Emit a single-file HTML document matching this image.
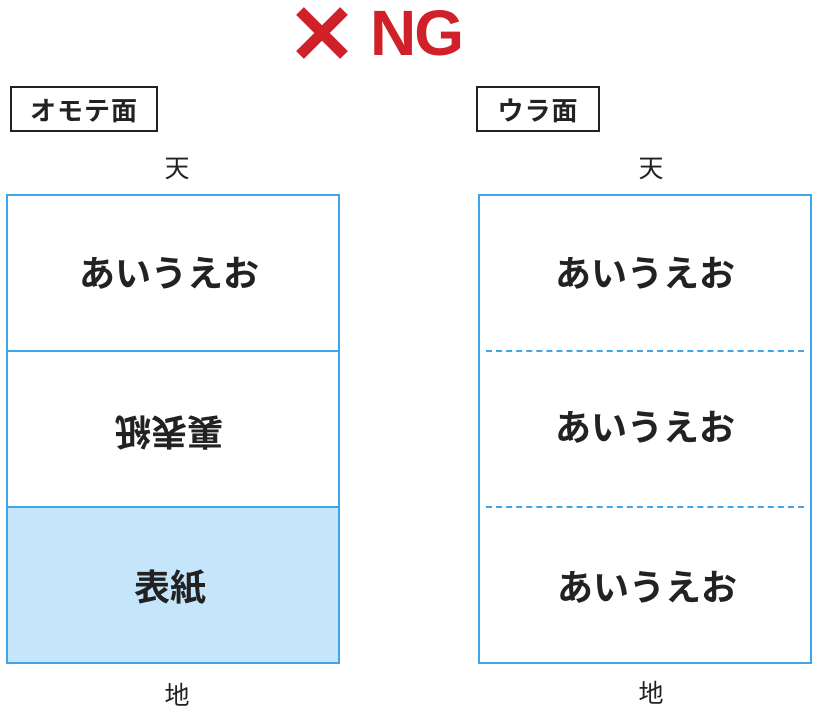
<!DOCTYPE html>
<html><head><meta charset="utf-8"><style>
body{margin:0;width:824px;height:716px;background:#fff;position:relative;overflow:hidden;font-family:"Liberation Sans","Noto Sans CJK JP",sans-serif;color:#222}
.a{position:absolute}
.lbl{border:2px solid #222;font-weight:bold;font-size:26px;display:flex;align-items:center;justify-content:center;box-sizing:border-box;letter-spacing:1px}
.box{border:2px solid #3fa5e8;box-sizing:border-box}
.t{font-size:36px;font-weight:bold;text-align:center;line-height:40px}
.s{font-size:25px;text-align:center;width:60px}
</style></head><body>
<svg class="a" style="left:294px;top:5px" width="56" height="56"><path d="M6 6L50 50M50 6L6 50" stroke="#d0202a" stroke-width="11"/></svg>
<div class="a" style="left:370px;top:-4px;font-size:64px;font-weight:bold;color:#d0202a;letter-spacing:-2px">NG</div>

<div class="a lbl" style="left:10px;top:86px;width:148px;height:46px">オモテ面</div>
<div class="a lbl" style="left:476px;top:86px;width:124px;height:46px">ウラ面</div>

<div class="a s" style="left:147px;top:149px">天</div>
<div class="a s" style="left:621px;top:149px">天</div>
<div class="a s" style="left:147px;top:676px">地</div>
<div class="a s" style="left:621px;top:674px">地</div>

<div class="a box" style="left:6px;top:194px;width:334px;height:470px"></div>
<div class="a" style="left:8px;top:508px;width:330px;height:154px;background:#c5e5fb"></div>
<div class="a" style="left:8px;top:350px;width:330px;height:2px;background:#3fa5e8"></div>
<div class="a" style="left:8px;top:506px;width:330px;height:2px;background:#3fa5e8"></div>
<div class="a t" style="left:4px;top:254px;width:330px">あいうえお</div>
<div class="a t" style="left:4px;top:411px;width:330px;transform:rotate(180deg)">裏表紙</div>
<div class="a t" style="left:8px;top:568px;width:324px;font-size:36px">表紙</div>

<div class="a box" style="left:478px;top:194px;width:334px;height:470px"></div>
<div class="a" style="left:486px;top:350px;width:318px;border-top:2px dashed #3fa5e8"></div>
<div class="a" style="left:486px;top:506px;width:318px;border-top:2px dashed #3fa5e8"></div>
<div class="a t" style="left:480px;top:254px;width:330px">あいうえお</div>
<div class="a t" style="left:480px;top:408px;width:330px">あいうえお</div>
<div class="a t" style="left:482px;top:568px;width:330px">あいうえお</div>
</body></html>
